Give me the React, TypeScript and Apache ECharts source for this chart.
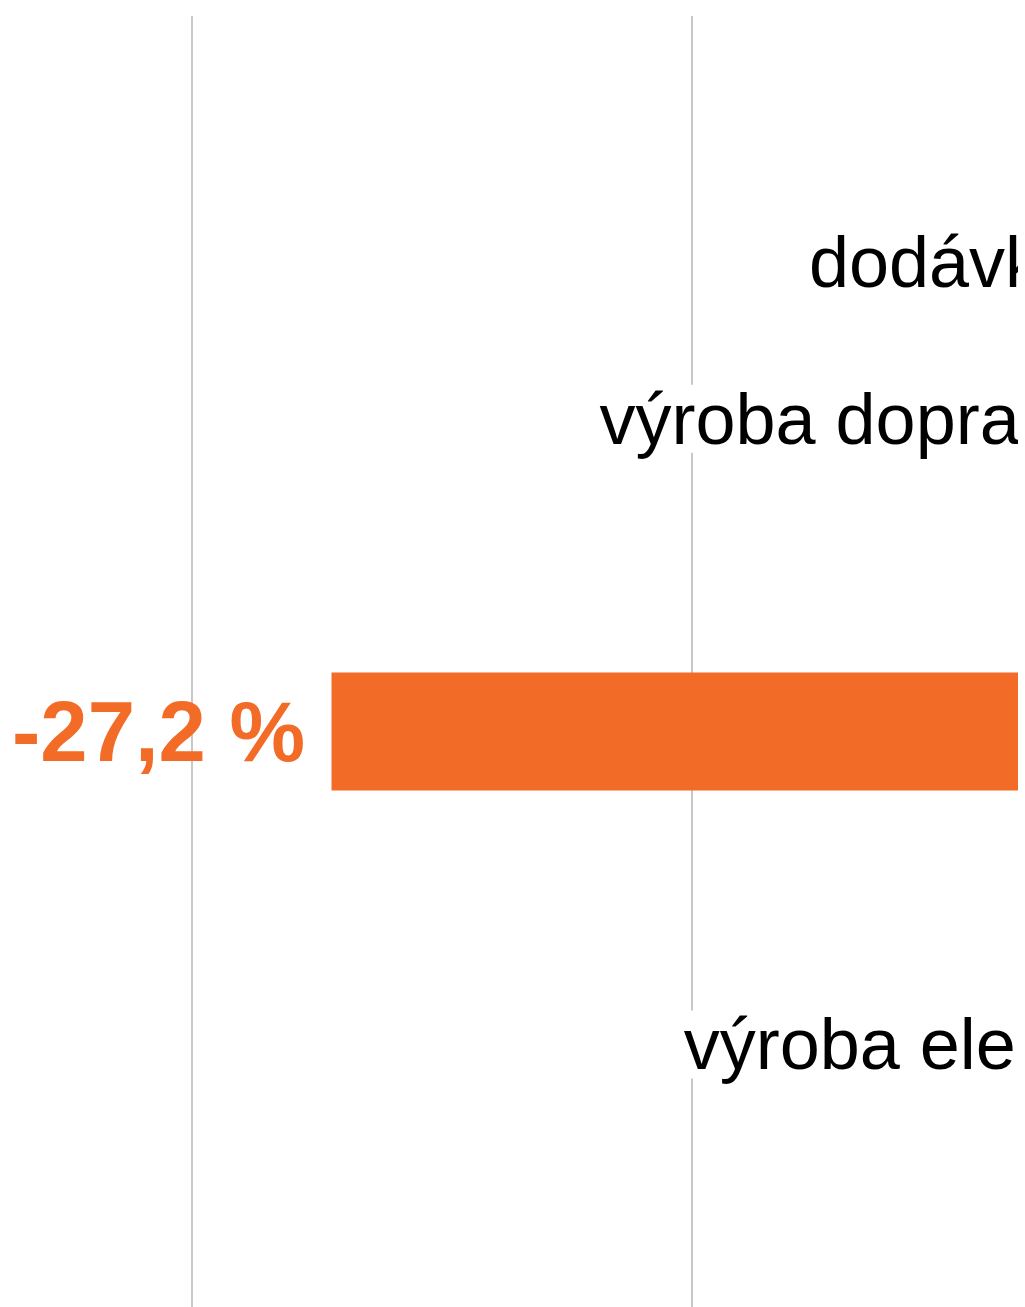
import React, { useEffect, useRef } from "react";
import * as echarts from "echarts";

// Categories (top to bottom); blank entries are bands whose labels lie outside the visible area
const categories: string[] = [
  "",
  "dodávky elektřiny, plynu",
  "výroba dopravních prostředků\u00a0",
  "",
  "výroba motorových vozidel",
  "",
  "výroba elektrických zařízení",
  "",
];
// Year-on-year change in %, only the visible bar is known
const values: (number | null)[] = [null, null, null, null, -27.2, null, null, null];
// Value-axis range and tick step (%)
const axisMin = -40;
const axisMax = 10;
const axisStep = 10;

const W = 1025;
const H = 1307;
const VISIBLE_W = 1018; // the reference shows a narrow white strip at its right edge
// the chart canvas is larger than the visible page and shifted left
const OFFSET_X = -400;
const CW = 2700;
const CH = 1400;
const PX_PER_UNIT = 50;
const GRID_LEFT = 191.5 - (-30 - axisMin) * PX_PER_UNIT - OFFSET_X;
const GRID_WIDTH = (axisMax - axisMin) * PX_PER_UNIT;
const GRID_RIGHT = CW - (GRID_LEFT + GRID_WIDTH);
const BAND = 156.4;
const BAR_TOP = 262.4 - 1.5 * BAND;
const LABEL_RIGHT = 1572 - OFFSET_X; // right edge of category labels (chart coords)
const LABEL_MARGIN = 8;
const Y_OFFSET = GRID_LEFT - (LABEL_RIGHT + LABEL_MARGIN);

const ORANGE = "#F36C27";
const FONT = "'Liberation Sans', Arial, Helvetica, sans-serif";

export default function App() {
  const ref = useRef<HTMLDivElement>(null);
  useEffect(() => {
    if (!ref.current) return;
    const chart = echarts.init(ref.current, undefined, { renderer: "svg" });
    const fmt = (v: number) => v.toFixed(1).replace(".", ",") + " %";
    chart.setOption({
      animation: false,
      backgroundColor: "#ffffff",
      grid: [
        {
          left: GRID_LEFT, right: GRID_RIGHT, top: BAR_TOP, height: BAND * categories.length,
          containLabel: false, outerBoundsMode: "none",
        },
        {
          left: GRID_LEFT, right: GRID_RIGHT, top: 16, bottom: 20,
          containLabel: false, outerBoundsMode: "none",
        },
      ],
      xAxis: [
        {
          type: "value", gridIndex: 0, min: axisMin, max: axisMax, interval: axisStep,
          axisLabel: { show: false }, axisLine: { show: false }, axisTick: { show: false },
          splitLine: { show: false },
        },
        {
          type: "value", gridIndex: 1, min: axisMin, max: axisMax, interval: axisStep, z: 0,
          axisLabel: { show: false }, axisLine: { show: false }, axisTick: { show: false },
          splitLine: { show: true, lineStyle: { color: "#c8c8c8", width: 2 } },
        },
      ],
      yAxis: [
        {
          type: "category", gridIndex: 0, inverse: true, data: categories, z: 1,
          position: "left", offset: Y_OFFSET,
          axisLine: { show: false, onZero: false },
          axisTick: { show: false },
          axisLabel: {
            fontSize: 72, fontFamily: FONT, color: "#000000", margin: LABEL_MARGIN,
            backgroundColor: "#ffffff", lineHeight: 68,
          },
          splitLine: { show: false },
        },
        { type: "value", gridIndex: 1, show: false, min: 0, max: 1 },
      ],
      series: [
        {
          type: "bar", xAxisIndex: 0, yAxisIndex: 0, barWidth: 118, z: 2,
          itemStyle: { color: ORANGE },
          data: values.map((v) =>
            v == null
              ? "-"
              : {
                  value: v,
                  label: {
                    show: true, position: v < 0 ? "left" : "right", distance: 26.5,
                    formatter: () => fmt(v), fontSize: 85, fontWeight: "bold",
                    fontFamily: FONT, color: ORANGE,
                  },
                }
          ),
        },
      ],
    });
    return () => chart.dispose();
  }, []);
  return (
    <div style={{ position: "fixed", left: 0, top: 0, width: W, height: H, background: "#fff" }}>
      <div style={{ position: "absolute", left: 0, top: 0, width: VISIBLE_W, height: H, overflow: "hidden" }}>
        <div ref={ref} style={{ position: "absolute", left: OFFSET_X, top: 0, width: CW, height: CH }} />
      </div>
    </div>
  );
}
